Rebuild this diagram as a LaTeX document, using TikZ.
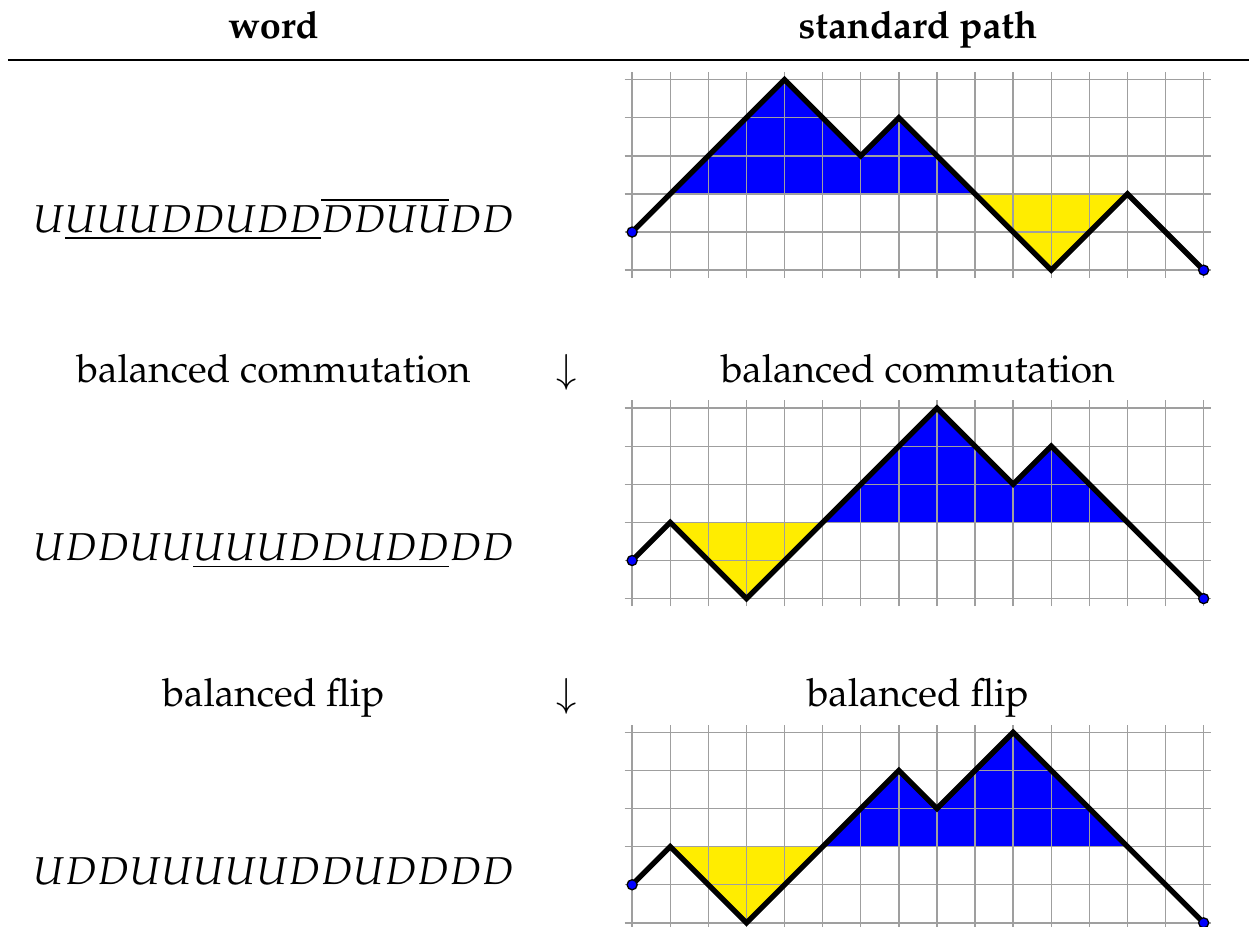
\documentclass[tikz,border=0pt]{standalone}
\usepackage[T1]{fontenc}
\usepackage{mathpazo}
\usepackage{tikz}
\definecolor{pathyellow}{RGB}{255,237,0}
\tikzset{
    gridn/.style = {gray!75, line width=0.4pt, step=1},
    edgen/.style = {-,ultra thick,black},
    areab/.style = {fill=blue},
    areay/.style = {fill=pathyellow},
    mydot/.style = {circle, thin, draw=black, fill=blue, inner sep=0pt, minimum size=3pt},
    mytext/.style = {inner sep=0pt, anchor=base, font=\fontsize{11.6}{14}\selectfont},
    myhead/.style = {inner sep=0pt, anchor=base, font=\fontsize{11.3}{14}\selectfont\bfseries},
    myrule/.style = {-, line width=0.6pt, black}
}

\begin{document}
\begin{tikzpicture}[x=0.4cm,y=0.4cm]
\path[use as bounding box] (-16.59,-18.22) rectangle (16.19,6.09);

% header
\node[myhead] at (-9.41,5.08) (hword) {word};
\node[myhead] at (7.5,5.08) (hpath) {standard path};
\coordinate (rl) at (-16.38,4.51);
\coordinate (rr) at (16.19,4.51);
\draw[myrule] (rl) -- (rr);

% row 1
\node[mytext] at (-9.41,0) (w1) {$U\underline{UUUDDUDD}\overline{DDUU}DD$};
\begin{scope}
\fill[areab] (1,1) -- (4,4) -- (6,2) -- (7,3) -- (9,1) -- cycle;
\fill[areay] (9,1) -- (11,-1) -- (13,1) -- cycle;
\draw[gridn] (-0.2,-1.2) grid (15.2,4.2);
\draw[edgen] (0,0) -- (4,4) -- (6,2) -- (7,3) -- (11,-1) -- (13,1) -- (15,-1);
\node[mydot] at (0,0) (s1) {};
\node[mydot] at (15,-1) (e1) {};
\end{scope}

% step 1
\node[mytext] at (-9.41,-3.95) (l1) {balanced commutation};
\node[mytext] at (-1.71,-3.95) (a1) {$\downarrow$};
\node[mytext] at (7.5,-3.95) (r1) {balanced commutation};

% row 2
\node[mytext] at (-9.41,-8.62) (w2) {$UDDUU\underline{UUUDDUDD}DD$};
\begin{scope}[shift={(0,-8.62)}]
\fill[areay] (1,1) -- (3,-1) -- (5,1) -- cycle;
\fill[areab] (5,1) -- (8,4) -- (10,2) -- (11,3) -- (13,1) -- cycle;
\draw[gridn] (-0.2,-1.2) grid (15.2,4.2);
\draw[edgen] (0,0) -- (1,1) -- (3,-1) -- (8,4) -- (10,2) -- (11,3) -- (15,-1);
\node[mydot] at (0,0) (s2) {};
\node[mydot] at (15,-1) (e2) {};
\end{scope}

% step 2
\node[mytext] at (-9.41,-12.46) (l2) {balanced flip};
\node[mytext] at (-1.71,-12.46) (a2) {$\downarrow$};
\node[mytext] at (7.5,-12.46) (r2) {balanced flip};

% row 3
\node[mytext] at (-9.41,-17.13) (w3) {$UDDUUUUUDDUDDDD$};
\begin{scope}[shift={(0,-17.13)}]
\fill[areay] (1,1) -- (3,-1) -- (5,1) -- cycle;
\fill[areab] (5,1) -- (7,3) -- (8,2) -- (10,4) -- (13,1) -- cycle;
\draw[gridn] (-0.2,-1.2) grid (15.2,4.2);
\draw[edgen] (0,0) -- (1,1) -- (3,-1) -- (7,3) -- (8,2) -- (10,4) -- (15,-1);
\node[mydot] at (0,0) (s3) {};
\node[mydot] at (15,-1) (e3) {};
\end{scope}

\end{tikzpicture}
\end{document}
